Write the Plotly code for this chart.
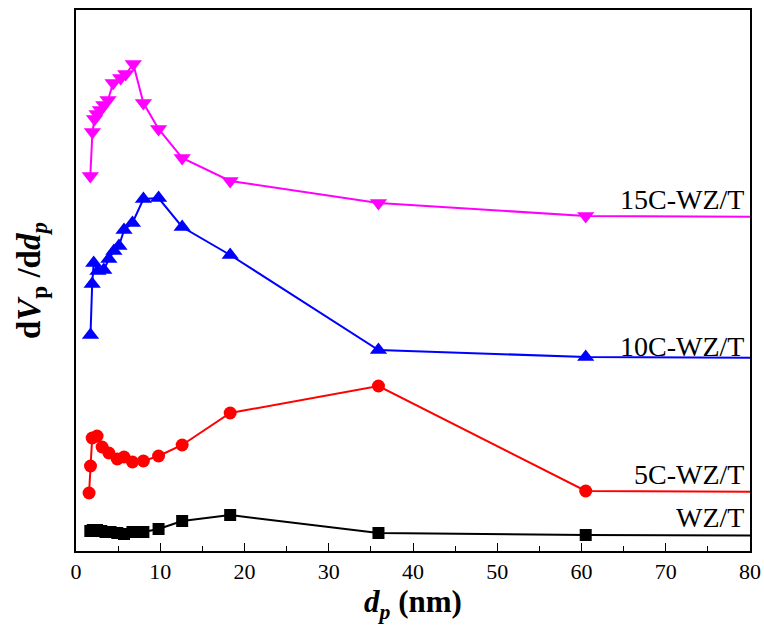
import plotly.graph_objects as go

# pore diameter (nm) and dV/dd (arbitrary, offset-stacked units)
x_wzt = [1.7, 2.0, 2.5, 3.0, 3.5, 4.1, 4.9, 5.7, 6.7, 8.0, 9.8, 12.6, 18.3, 35.9, 60.5, 95.0]
y_wzt = [20, 21, 21, 20, 19, 19, 18, 17, 19, 19, 22, 30, 36, 18, 16, 15]

x_5c = [1.55, 1.72, 1.92, 2.5, 3.1, 3.9, 4.9, 5.7, 6.7, 8.0, 9.8, 12.6, 18.3, 35.9, 60.5, 95.0]
y_5c = [58, 85, 113, 115, 104, 98, 92, 94, 89, 90, 95, 106, 138, 165, 60, 58.5]

x_10c = [1.72, 1.92, 2.1, 2.6, 3.3, 3.9, 4.5, 5.1, 5.7, 6.7, 8.0, 9.8, 12.6, 18.3, 35.9, 60.5, 95.0]
y_10c = [216, 267, 288, 280, 281, 292, 300, 305, 321, 328, 352, 353, 324, 296, 201, 194, 192.5]

x_15c = [1.7, 1.95, 2.2, 2.5, 2.9, 3.3, 3.8, 4.4, 5.3, 5.9, 6.8, 8.0, 9.8, 12.6, 18.3, 35.9, 60.5, 95.0]
y_15c = [375, 419, 432, 437, 441, 446, 451, 468, 473, 477, 487, 448, 422, 393, 370, 348, 335, 333.5]

labels = ["WZ/T", "5C-WZ/T", "10C-WZ/T", "15C-WZ/T"]
label_y = [34, 77, 205, 352]

x_ticks = [0, 10, 20, 30, 40, 50, 60, 70, 80]

SERIF = "Liberation Serif, Times New Roman, serif"

series = [
    (x_wzt, y_wzt, "black", "square", 12),
    (x_5c, y_5c, "red", "circle", 13),
    (x_10c, y_10c, "blue", "triangle-up", 15),
    (x_15c, y_15c, "magenta", "triangle-down", 15),
]

fig = go.Figure()
for (xs, ys, col, sym, sz), name in zip(series, labels):
    fig.add_trace(go.Scatter(
        x=xs, y=ys, mode="lines+markers", name=name,
        line=dict(color=col, width=2),
        marker=dict(symbol=sym, size=sz, color=col, line=dict(width=0)),
        showlegend=False,
    ))

for name, ly in zip(labels, label_y):
    fig.add_annotation(
        x=79.5, y=ly, xref="x", yref="y", text=name, showarrow=False,
        xanchor="right", yanchor="middle",
        font=dict(family=SERIF, size=28, color="black"),
    )

fig.update_layout(
    width=764, height=630, autosize=False,
    margin=dict(l=76, r=14, t=10, b=79, autoexpand=False),
    paper_bgcolor="white", plot_bgcolor="white",
    font=dict(family=SERIF, color="black"),
    xaxis=dict(
        range=[0, 80], tickvals=x_ticks, ticktext=[str(v) for v in x_ticks],
        ticklabeloverflow="allow", automargin=False,
        ticks="inside", ticklen=8, tickwidth=1.3, tickcolor="black",
        minor=dict(ticks="inside", ticklen=5, dtick=5, tickwidth=1.3, tickcolor="black"),
        showline=True, linewidth=1.5, linecolor="black", mirror=True,
        showgrid=False, zeroline=False,
        tickfont=dict(family=SERIF, size=22),
        title=dict(text="<b><i>d</i><sub><i>p</i></sub> (nm)</b>",
                   font=dict(family=SERIF, size=31), standoff=4),
    ),
    yaxis=dict(
        range=[0, 541], showticklabels=False, ticks="", automargin=False,
        showline=True, linewidth=1.5, linecolor="black", mirror=True,
        showgrid=False, zeroline=False,
        title=dict(text="<b>d<i>V</i><sub>p</sub> /d<i>d</i><sub><i>p</i></sub></b>",
                   font=dict(family=SERIF, size=33), standoff=24),
    ),
)

fig.write_html(
    "out.html",
    config={"responsive": False, "displayModeBar": False},
    post_script="document.body.style.margin='0';document.body.style.overflow='hidden';",
)
